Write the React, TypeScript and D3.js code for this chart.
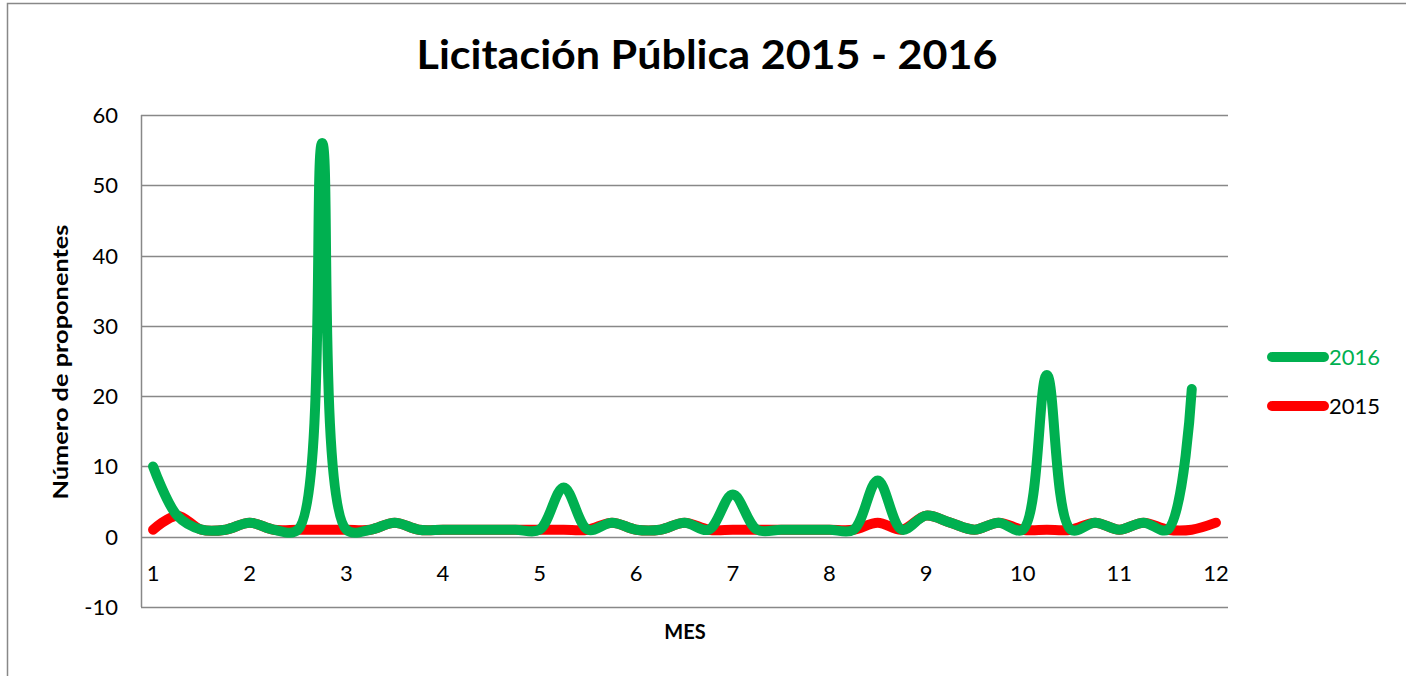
import React from "react";
import * as d3 from "d3";

// months (x) and number of bidders per series
const mes2015 = [1, 1.25, 1.5, 1.75, 2, 2.25, 2.5, 2.75, 3, 3.25, 3.5, 3.75, 4, 4.25, 4.5, 4.75, 5, 5.25, 5.5, 5.75, 6, 6.25, 6.5, 6.75, 7, 7.25, 7.5, 7.75, 8, 8.25, 8.5, 8.75, 9, 9.25, 9.5, 9.75, 10, 10.25, 10.5, 10.75, 11, 11.25, 11.5, 11.75, 12];
const prop2015 = [1, 3, 1, 1, 2, 1, 1, 1, 1, 1, 2, 1, 1, 1, 1, 1, 1, 1, 1, 2, 1, 1, 2, 1, 1, 1, 1, 1, 1, 1, 2, 1, 3, 2, 1, 2, 1, 1, 1, 2, 1, 2, 1, 1, 2];

const mes2016 = [1, 1.25, 1.5, 1.75, 2, 2.25, 2.5, 2.75, 3, 3.25, 3.5, 3.75, 4, 4.25, 4.5, 4.75, 5, 5.25, 5.5, 5.75, 6, 6.25, 6.5, 6.75, 7, 7.25, 7.5, 7.75, 8, 8.25, 8.5, 8.75, 9, 9.25, 9.5, 9.75, 10, 10.25, 10.5, 10.75, 11, 11.25, 11.5, 11.75];
const prop2016 = [10, 3, 1, 1, 2, 1, 1, 56, 1, 1, 2, 1, 1, 1, 1, 1, 1, 7, 1, 2, 1, 1, 2, 1, 6, 1, 1, 1, 1, 1, 8, 1, 3, 2, 1, 2, 1, 23, 1, 2, 1, 2, 1, 21];

const yTicks = [-10, 0, 10, 20, 30, 40, 50, 60];
const xTicks = [1, 2, 3, 4, 5, 6, 7, 8, 9, 10, 11, 12];

const W = 1406, H = 676;
const plot = { left: 141, right: 1228, top: 115, bottom: 607 };
const grid = "#888888";
const font = "Lato, 'Open Sans', sans-serif";

export default function App() {
  const x = d3.scaleLinear().domain([0.875, 12.125]).range([plot.left, plot.right]);
  const y = d3.scaleLinear().domain([-10, 60]).range([plot.bottom, plot.top]);

  const line = d3.line<[number, number]>()
    .x(d => x(d[0]))
    .y(d => y(d[1]))
    .curve(d3.curveCatmullRom.alpha(0.5));

  const d2015 = line(mes2015.map((m, i) => [m, prop2015[i]]) as [number, number][]) || "";
  const d2016 = line(mes2016.map((m, i) => [m, prop2016[i]]) as [number, number][]) || "";

  return (
    <svg width={W} height={H} style={{ position: "absolute", left: 0, top: 0, background: "#fff" }} fontFamily={font}>
      <rect x={0} y={0} width={W} height={H} fill="#fff" />
      {/* chart frame */}
      <path d={`M7.5,${H} V3.5 H${W}`} fill="none" stroke={grid} strokeWidth={1.5} />

      <text x={707} y={69} textAnchor="middle" fontSize={40} fontWeight="bold" textLength={581} lengthAdjust="spacingAndGlyphs">
        Licitación Pública 2015 - 2016
      </text>

      {/* gridlines */}
      {yTicks.map(t => (
        <line key={t} x1={plot.left} x2={plot.right} y1={Math.round(y(t)) + 0.5} y2={Math.round(y(t)) + 0.5} stroke={grid} strokeWidth={1.5} />
      ))}
      <line x1={plot.left + 0.5} x2={plot.left + 0.5} y1={plot.top} y2={plot.bottom} stroke={grid} strokeWidth={1.5} />

      {yTicks.map(t => (
        <text key={t} x={118} y={y(t) + 8} textAnchor="end" fontSize={22} fill="#000">{t}</text>
      ))}
      {xTicks.map(t => (
        <text key={t} x={x(t)} y={581} textAnchor="middle" fontSize={22} fill="#000">{t}</text>
      ))}

      <text transform={`translate(68,362) rotate(-90)`} textAnchor="middle" fontSize={20} fontWeight="bold" textLength={275} lengthAdjust="spacingAndGlyphs">
        Número de proponentes
      </text>
      <text x={685} y={639} textAnchor="middle" fontSize={20} fontWeight="bold">MES</text>

      {/* series */}
      <path d={d2015} fill="none" stroke="#FF0000" strokeWidth={10} strokeLinecap="round" strokeLinejoin="round" />
      <path d={d2016} fill="none" stroke="#00B050" strokeWidth={10} strokeLinecap="round" strokeLinejoin="round" />

      {/* legend */}
      <line x1={1272} x2={1324} y1={357} y2={357} stroke="#00B050" strokeWidth={10} strokeLinecap="round" />
      <text x={1329} y={365} fontSize={22} fill="#00B050">2016</text>
      <line x1={1272} x2={1324} y1={406} y2={406} stroke="#FF0000" strokeWidth={10} strokeLinecap="round" />
      <text x={1329} y={414} fontSize={22} fill="#000">2015</text>
    </svg>
  );
}
